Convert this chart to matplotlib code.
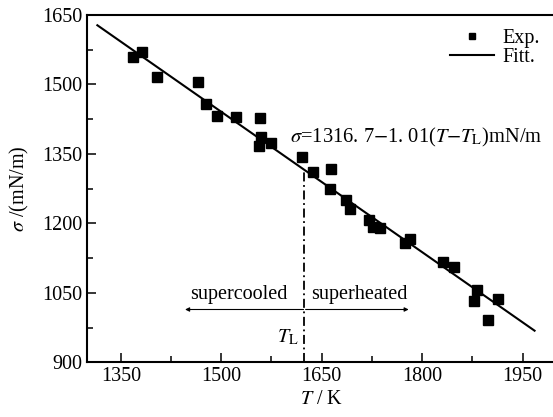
import numpy as np
import matplotlib
matplotlib.use("Agg")
import matplotlib.pyplot as plt
from matplotlib.ticker import MultipleLocator

plt.rcParams['font.family'] = ['Liberation Serif', 'DejaVu Serif']
plt.rcParams['mathtext.fontset'] = 'stix'

temp_exp = [1368, 1382, 1404, 1466, 1478, 1494, 1522, 1558, 1560, 1556, 1575,
            1620, 1637, 1664, 1663, 1687, 1692, 1720, 1727, 1737, 1775, 1782,
            1831, 1847, 1882, 1878, 1913, 1898]
sigma_exp = [1560, 1569, 1515, 1505, 1457, 1431, 1430, 1427, 1387, 1366, 1374,
             1344, 1310, 1317, 1274, 1250, 1232, 1207, 1193, 1189, 1158, 1166,
             1117, 1106, 1056, 1032, 1036, 991]

# fitted line  sigma = 1316.7 - 1.01 (T - TL)
T_L = 1623
sigma_L = 1316.7
slope = -1.01
fit_range = [1315, 1968]

FS = 14.5

fig = plt.figure(figsize=(5.53, 4.17), dpi=100)
ax = fig.add_axes([0.1579, 0.1312, 0.8475, 0.8329])

t_fit = np.array(fit_range)
ax.plot(t_fit, sigma_L + slope * (t_fit - T_L), color='black', lw=1.5, label='Fitt.')
ax.plot(temp_exp, sigma_exp, 's', color='black', ms=6.5, label='Exp.')

# liquidus line
ax.plot([T_L, T_L], [900, sigma_L], color='black', lw=1.3,
        linestyle=(0, (5, 2, 1, 2)))

# arrows
arrow_y = 1014
ax.annotate('', xy=(1446, arrow_y), xytext=(T_L, arrow_y),
            arrowprops=dict(arrowstyle='-|>', color='black', lw=0.8,
                            mutation_scale=6, shrinkA=0, shrinkB=0))
ax.annotate('', xy=(1780, arrow_y), xytext=(T_L + 3, arrow_y),
            arrowprops=dict(arrowstyle='-|>', color='black', lw=0.8,
                            mutation_scale=6, shrinkA=0, shrinkB=0))
ax.text(1526, 1046, 'supercooled', fontsize=FS, ha='center', va='center')
ax.text(1706, 1046, 'superheated', fontsize=FS, ha='center', va='center')
ax.text(1600, 954, r'$T_{\rm L}$', fontsize=FS, ha='center', va='center')

ax.text(1603, 1386, r'$\sigma$=1316. 7$-$1. 01($T$$-$$T_{\rm L}$)mN/m',
        fontsize=14.8, ha='left', va='center')

ax.set_xlim(1300, 2000)
ax.set_ylim(900, 1650)
ax.xaxis.set_major_locator(MultipleLocator(150))
ax.xaxis.set_minor_locator(MultipleLocator(75))
ax.yaxis.set_major_locator(MultipleLocator(150))
ax.yaxis.set_minor_locator(MultipleLocator(75))
ax.tick_params(which='both', direction='in', top=False, right=False,
               labelsize=FS, width=1.1)
ax.tick_params(which='major', length=6.5)
ax.tick_params(which='minor', length=4)
for sp in ax.spines.values():
    sp.set_linewidth(1.5)
ax.spines['right'].set_visible(False)

ax.set_xlabel(r'$T$ / K', fontsize=FS, labelpad=3)
ax.set_ylabel(r'$\sigma$ /(mN/m)', fontsize=FS, labelpad=8)

handles, labels = ax.get_legend_handles_labels()
ax.legend(handles[::-1], labels[::-1], loc='upper right', frameon=False,
          fontsize=FS, handlelength=2.2, handletextpad=0.4,
          labelspacing=0.0, borderaxespad=0.3, markerscale=0.75,
          bbox_to_anchor=(0.995, 1.0))

fig.savefig('out.png', dpi=100)
